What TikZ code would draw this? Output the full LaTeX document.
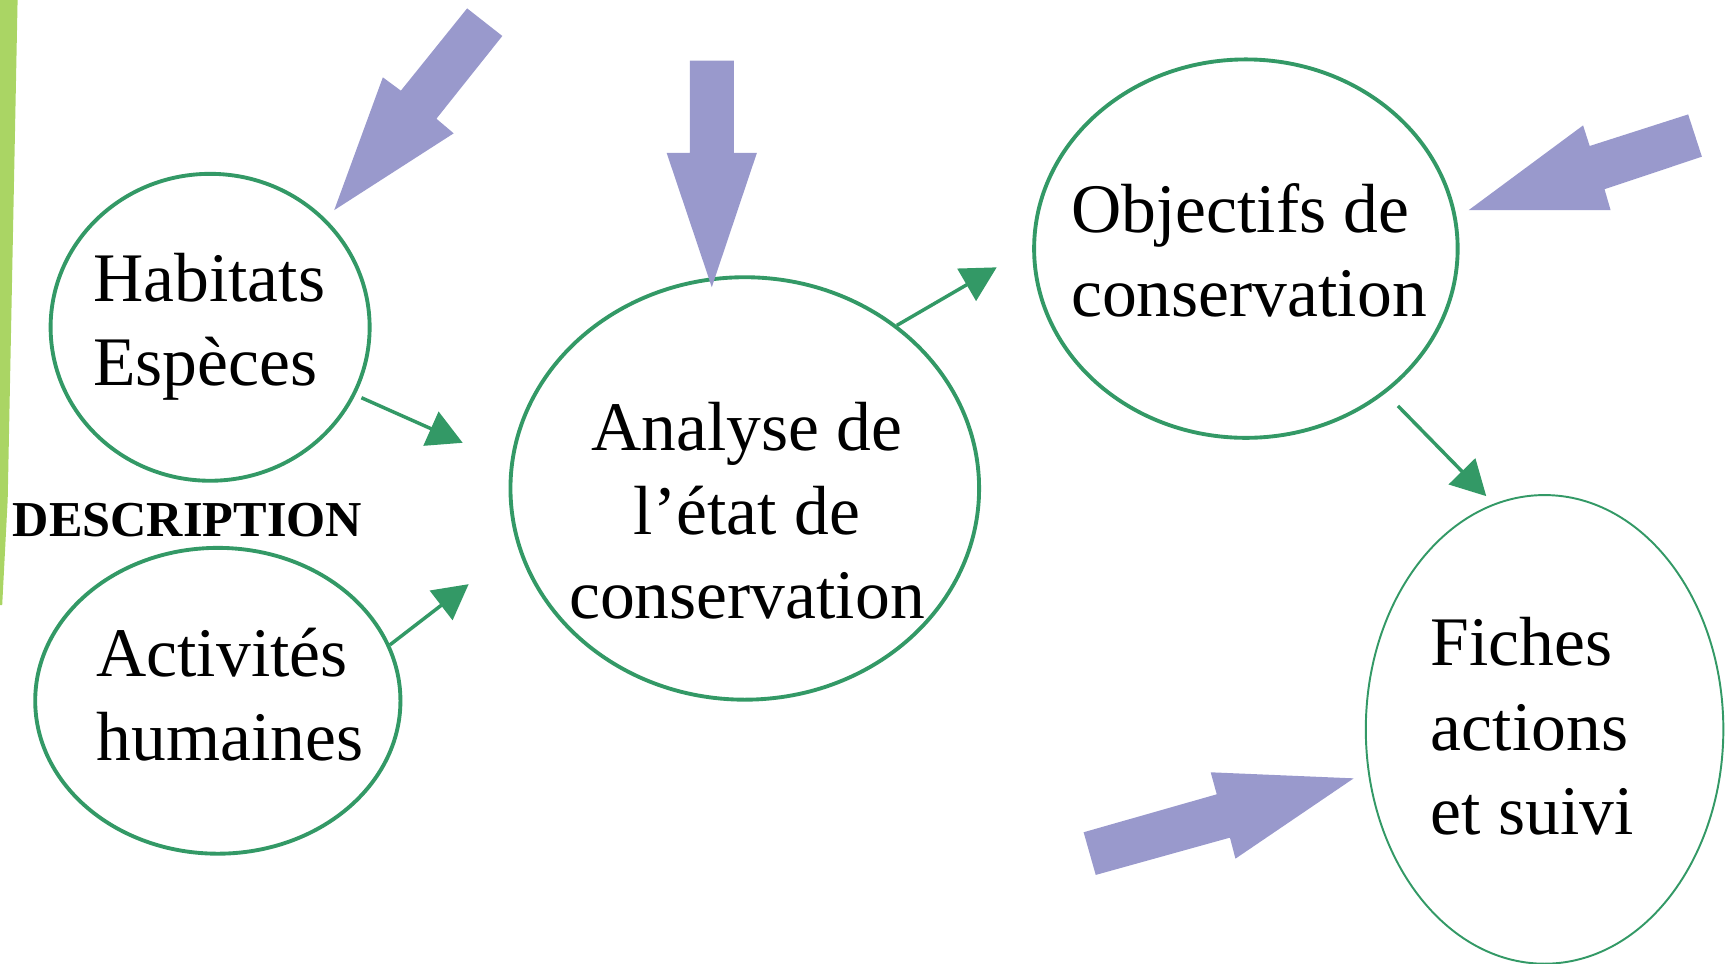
\documentclass[tikz,border=0pt]{standalone}
\usepackage{fontspec}
\setmainfont{Liberation Serif}
\usetikzlibrary{arrows.meta,shapes.geometric}
\definecolor{lgreen}{RGB}{51,153,102}
\definecolor{lpurple}{RGB}{153,153,204}
\definecolor{lbar}{RGB}{170,213,100}
\begin{document}
\begin{tikzpicture}[x=0.1mm,y=-0.1mm,
  bubble/.style={draw=lgreen, line width=1pt, ellipse, inner sep=0pt},
  thinbubble/.style={bubble, line width=0.5pt},
  txt/.style={inner sep=0pt, align=left, font=\fontsize{18pt}{21.8pt}\selectfont},
  ctxt/.style={txt, align=center},
  conn/.style={draw=lgreen, line width=0.9pt, -{Triangle[length=9pt,width=9.5pt]}},
  blockarrow/.style={fill=lpurple, draw=none}]
\useasboundingbox (0,0) rectangle (1568,876.25);
% left bar
\fill[lbar] (0,0) -- (16,0) -- (7,454) -- (2,550) -- (0,550) -- cycle;
% bubbles
\node[bubble, minimum width=29mm, minimum height=27.9mm] (hab) at (191,297.5) {};
\node[bubble, minimum width=33.2mm, minimum height=27.8mm] (act) at (198,637) {};
\node[bubble, minimum width=42.6mm, minimum height=38.4mm] (ana) at (677,444) {};
\node[bubble, minimum width=38.5mm, minimum height=34.4mm] (obj) at (1132.5,226) {};
\node[thinbubble, minimum width=32.5mm, minimum height=42.6mm] (fic) at (1404,663) {};
% texts
\node[txt, anchor=north west] (habt) at (84,229.4) {Habitats\\Espèces};
\node[txt, anchor=north west] (actt) at (87,570.2) {Activités\\humaines};
\node[ctxt, anchor=north] (anat) at (679,364.7) {Analyse de\\l’état de\\conservation};
\node[txt, anchor=north west] (objt) at (973,165.7) {Objectifs de\\conservation};
\node[txt, anchor=north west] (fict) at (1300,560.7) {Fiches\\actions\\et suivi};
\node[inner sep=0pt, anchor=base west, font=\fontsize{13pt}{15pt}\selectfont\bfseries] (desc) at (11,488) {DESCRIPTION};
% green connectors
\coordinate (t1) at (420.6,402.5);
\coordinate (t2) at (426,531);
\coordinate (t3) at (906,243);
\coordinate (t4) at (1351,451);
\draw[conn, shorten <=0.6mm] (hab.-25) -- (t1);
\draw[conn] (act.18.9) -- (t2);
\draw[conn] (ana.47.6) -- (t3);
\draw[conn, shorten <=1.6mm] (obj.-46.1) -- (t4);
% purple block arrows
\fill[blockarrow] (424.6,7.6) -- (456.6,32.7) -- (396.7,107.9) -- (412.4,121.2) -- (303.8,191) -- (348,70.3) -- (364.4,82.4) -- cycle;
\fill[blockarrow] (627,55) -- (667,55) -- (667,139) -- (688,139) -- (647,261) -- (606,139) -- (627,139) -- cycle;
\fill[blockarrow] (1335,191) -- (1439,114) -- (1445,132.7) -- (1534.5,104) -- (1547,142.4) -- (1458.5,172) -- (1464,191) -- cycle;
\fill[blockarrow] (996,795.3) -- (985,756.5) -- (1106,722) -- (1100.5,702) -- (1230.5,707.5) -- (1123,780.5) -- (1118,761.4) -- cycle;
\end{tikzpicture}
\end{document}
